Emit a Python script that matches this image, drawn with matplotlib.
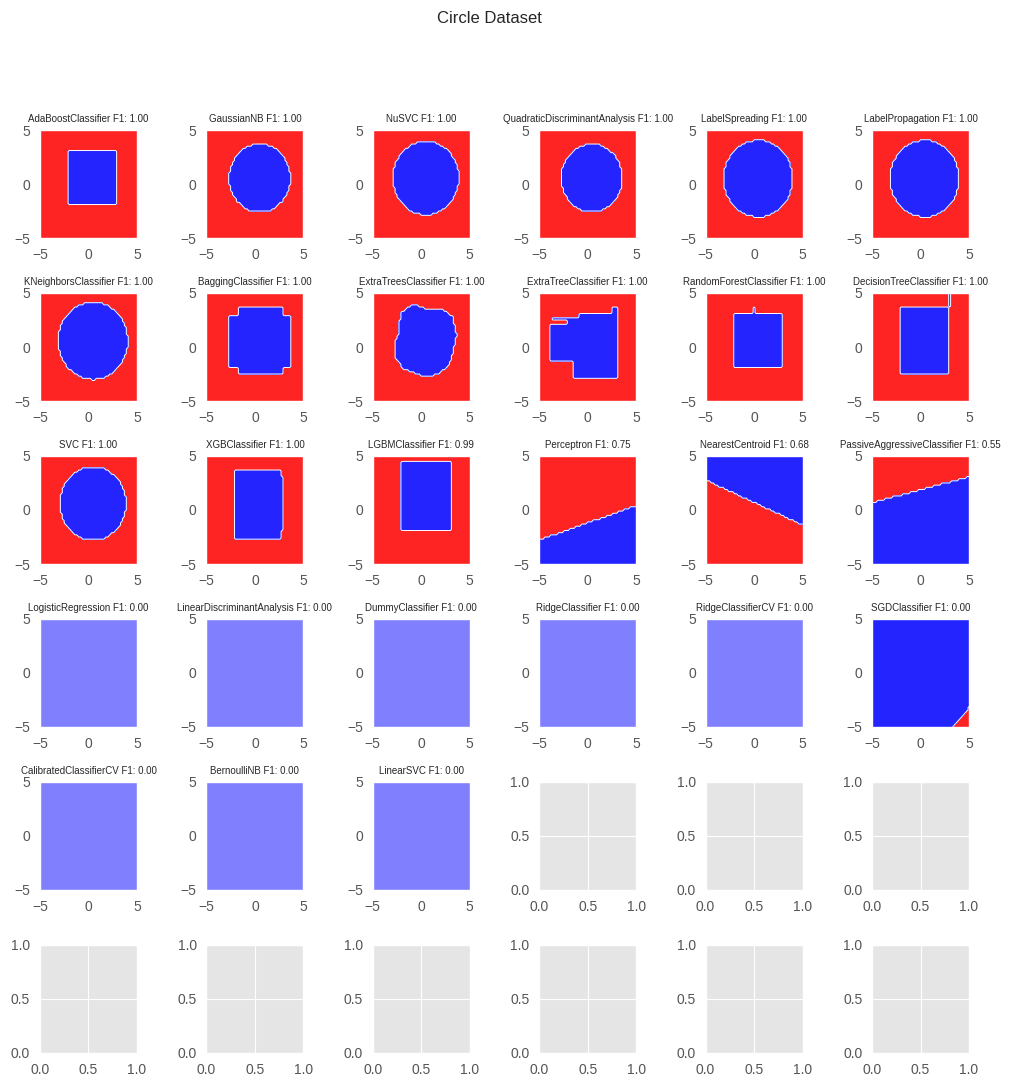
import numpy as np
import matplotlib
matplotlib.use("Agg")
import matplotlib.pyplot as plt
from matplotlib.path import Path

plt.style.use("ggplot")
plt.rcParams["font.family"] = ["Liberation Sans", "DejaVu Sans"]

# ---------------- data ----------------
model_names = [
    "AdaBoostClassifier", "GaussianNB", "NuSVC", "QuadraticDiscriminantAnalysis",
    "LabelSpreading", "LabelPropagation",
    "KNeighborsClassifier", "BaggingClassifier", "ExtraTreesClassifier",
    "ExtraTreeClassifier", "RandomForestClassifier", "DecisionTreeClassifier",
    "SVC", "XGBClassifier", "LGBMClassifier", "Perceptron", "NearestCentroid",
    "PassiveAggressiveClassifier",
    "LogisticRegression", "LinearDiscriminantAnalysis", "DummyClassifier",
    "RidgeClassifier", "RidgeClassifierCV", "SGDClassifier",
    "CalibratedClassifierCV", "BernoulliNB", "LinearSVC",
]
f1_scores = [1.00, 1.00, 1.00, 1.00, 1.00, 1.00,
             1.00, 1.00, 1.00, 1.00, 1.00, 1.00,
             1.00, 1.00, 0.99, 0.75, 0.68, 0.55,
             0.00, 0.00, 0.00, 0.00, 0.00, 0.00,
             0.00, 0.00, 0.00]

# Blue (class 1) decision regions.
# rect: (x0, x1, y0, y1); circle: (cx, cy, r); poly: vertices;
# line: (x1, y1, x2, y2) -> class 1 on the left of the directed line;
# const: whole plane is one predicted class.
regions = {
    "AdaBoostClassifier": [("rect", (-2.1, 2.95, -1.95, 3.05))],
    "GaussianNB": [("circle", (0.5, 0.55, 3.15))],
    "NuSVC": [("circle", (0.47, 0.55, 3.4))],
    "QuadraticDiscriminantAnalysis": [("circle", (0.42, 0.55, 3.15))],
    "LabelSpreading": [("circle", (0.41, 0.5, 3.55))],
    "LabelPropagation": [("circle", (0.41, 0.5, 3.55))],
    "KNeighborsClassifier": [("circle", (0.47, 0.57, 3.58))],
    "BaggingClassifier": [("rect", (-1.77, 2.90, -2.59, 3.68)),
                          ("rect", (-2.70, 3.66, -1.92, 2.81))],
    "ExtraTreesClassifier": [("poly", [
        (-2.05, 3.18), (-1.53, 3.58), (-0.67, 3.95), (-0.15, 3.73), (0.70, 3.49),
        (2.08, 3.49), (2.77, 3.12), (3.28, 2.81), (3.45, 1.73), (3.63, 1.27),
        (3.56, 0.49), (3.28, -0.28), (3.11, -1.20), (2.59, -1.98), (1.74, -2.44),
        (0.70, -2.81), (-0.15, -2.59), (-1.01, -2.28), (-1.87, -2.07),
        (-2.22, -1.51), (-2.63, -1.05), (-2.73, 0.03), (-2.56, 0.96),
        (-2.22, 1.27), (-2.22, 2.35)])],
    "ExtraTreeClassifier": [("rect", (-0.85, 3.01, -2.81, 3.12)),
                            ("rect", (2.49, 3.01, 3.0, 3.73)),
                            ("rect", (-3.94, -0.85, -1.27, 2.04)),
                            ("rect", (-1.46, 3.01, -2.81, -1.27)),
                            ("rect", (-3.63, -0.85, 2.5, 2.75)),
                            ("rect", (-2.1, -0.85, 2.04, 2.75))],
    "RandomForestClassifier": [("rect", (-2.11, 2.97, -1.97, 3.12)),
                               ("rect", (-0.1, 0.12, 3.0, 3.68))],
    "DecisionTreeClassifier": [("rect", (-2.11, 2.87, -2.59, 3.73)),
                               ("rect", (2.95, 3.05, 3.6, 5.0))],
    "SVC": [("circle", (0.47, 0.6, 3.4))],
    "XGBClassifier": [("rect", (-2.01, 2.73, -2.62, 3.70)),
                      ("rect", (-2.01, 2.97, -1.91, 3.03))],
    "LGBMClassifier": [("rect", (-2.11, 3.01, -1.91, 4.47))],
    "Perceptron": [("line", (5.0, 0.40, -5.0, -2.78))],
    "NearestCentroid": [("line", (-5.0, 2.78, 5.0, -1.39))],
    "PassiveAggressiveClassifier": [("line", (5.0, 3.08, -5.0, 0.68))],
    "LogisticRegression": [("const", 1)],
    "LinearDiscriminantAnalysis": [("const", 1)],
    "DummyClassifier": [("const", 1)],
    "RidgeClassifier": [("const", 1)],
    "RidgeClassifierCV": [("const", 1)],
    "SGDClassifier": [("line", (3.38, -5.0, 5.0, -3.18))],
    "CalibratedClassifierCV": [("const", 1)],
    "BernoulliNB": [("const", 1)],
    "LinearSVC": [("const", 1)],
}

RED = "#ff2424"
BLUE = "#2424ff"
LIGHT = "#8080ff"

xs = np.linspace(-5, 5, 51)
ys = np.linspace(-5, 5, 51)
X, Y = np.meshgrid(xs, ys)


def predict(shapes):
    Z = np.zeros_like(X, dtype=float)
    const = None
    for kind, p in shapes:
        if kind == "rect":
            x0, x1, y0, y1 = p
            Z[(X >= x0) & (X <= x1) & (Y >= y0) & (Y <= y1)] = 1
        elif kind == "circle":
            cx, cy, r = p
            Z[(X - cx) ** 2 + (Y - cy) ** 2 <= r ** 2] = 1
        elif kind == "poly":
            path = Path(p)
            inside = path.contains_points(np.c_[X.ravel(), Y.ravel()])
            Z[inside.reshape(X.shape)] = 1
        elif kind == "line":
            x1, y1, x2, y2 = p
            cross = (x2 - x1) * (Y - y1) - (y2 - y1) * (X - x1)
            Z[cross >= 0] = 1
        elif kind == "const":
            const = p
    return Z, const


fig, axes = plt.subplots(6, 6, figsize=(10.09, 10.87), dpi=100)
fig.subplots_adjust(left=0.0396, right=0.9604, top=0.8804, bottom=0.0313,
                    wspace=0.715, hspace=0.509)
fig.suptitle("Circle Dataset", fontsize=12, color="#262626", x=0.485, y=0.99)

for ax in axes.ravel():
    ax.tick_params(length=0, pad=7, labelsize=10, colors="#555555")

for i, (name, f1) in enumerate(zip(model_names, f1_scores)):
    ax = axes.ravel()[i]
    ax.grid(False)
    Z, const = predict(regions[name])
    if const is not None:
        ax.contourf(X, Y, np.full_like(X, const, dtype=float),
                    levels=[0.5, 1.5], colors=[LIGHT])
    else:
        ax.contourf(X, Y, Z, levels=[-0.5, 0.5, 1.5], colors=[RED, BLUE])
        ax.contour(X, Y, Z, levels=[0.5], colors="white", linewidths=0.7)
    ax.set_title(f"{name} F1: {f1:.2f}", fontsize=7, color="#262626")
    ax.set_xticks([-5, 0, 5])
    ax.set_yticks([-5, 0, 5])

fig.savefig("out.png", dpi=100)
